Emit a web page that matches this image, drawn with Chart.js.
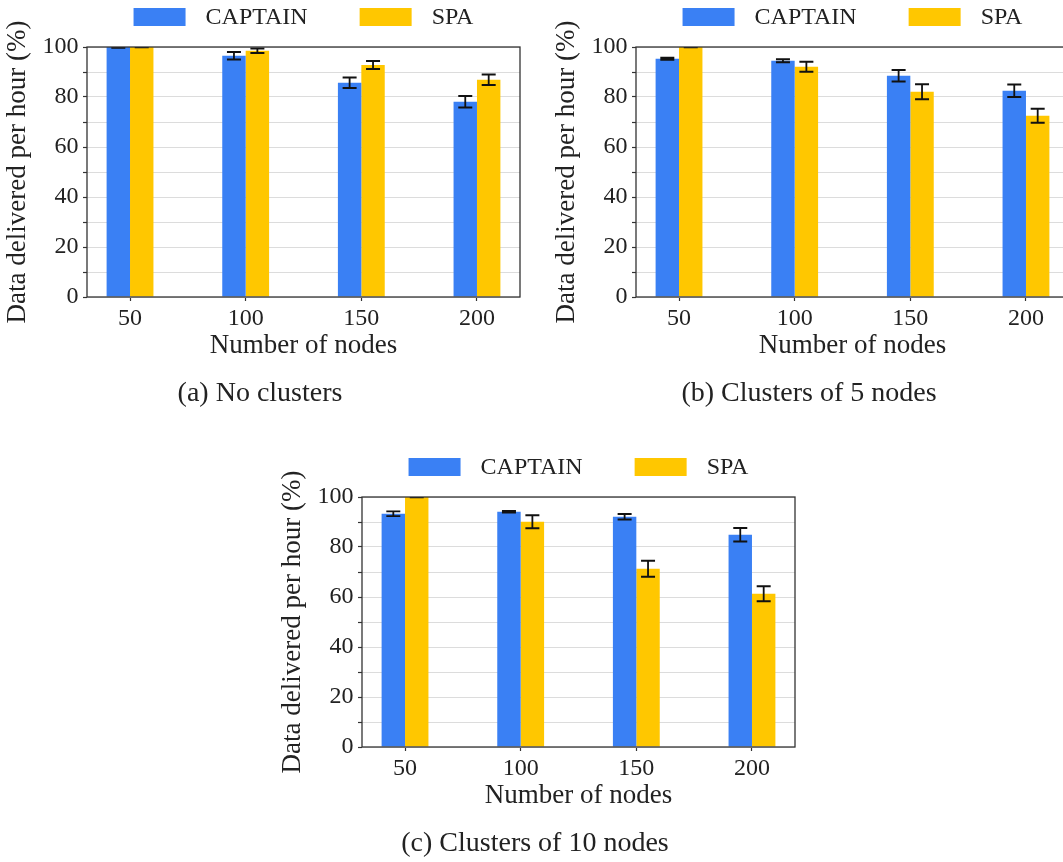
<!DOCTYPE html>
<html>
<head>
<meta charset="utf-8">
<title>Data delivered per hour</title>
<script src="https://cdn.jsdelivr.net/npm/chart.js@4.4.1/dist/chart.umd.min.js"></script>
<style>
  html, body { margin: 0; padding: 0; background: #fff; overflow: hidden; }
  #figure { position: relative; width: 1063px; height: 862px; overflow: hidden; }
  .panel { position: absolute; width: 530px; height: 420px; }
</style>
</head>
<body>
<div id="figure">
  <div class="panel" style="left:0px;top:0px"><canvas id="chartA" width="530" height="420"></canvas></div>
  <div class="panel" style="left:549px;top:0px"><canvas id="chartB" width="530" height="420"></canvas></div>
  <div class="panel" style="left:275px;top:450px"><canvas id="chartC" width="530" height="420"></canvas></div>
</div>
<script>
// Data
const nodeCounts = [50, 100, 150, 200];
const seriesNames = ['CAPTAIN', 'SPA'];

const captainNoClusters = [100, 96.5, 85.7, 78.1];
const captainNoClustersErr = [0.3, 1.5, 2.1, 2.3];
const spaNoClusters = [100, 98.5, 92.8, 86.9];
const spaNoClustersErr = [0.1, 0.9, 1.6, 2.1];

const captainClusters5 = [95.3, 94.5, 88.5, 82.5];
const captainClusters5Err = [0.4, 0.6, 2.3, 2.5];
const spaClusters5 = [100, 92.1, 82.1, 72.5];
const spaClusters5Err = [0.15, 2.0, 3.0, 2.8];

const captainClusters10 = [93.3, 94.1, 92.1, 84.9];
const captainClusters10Err = [0.95, 0.3, 1.1, 2.7];
const spaClusters10 = [100, 90.1, 71.3, 61.3];
const spaClusters10Err = [0.1, 2.6, 3.2, 3.0];

const captions = ['(a) No clusters', '(b) Clusters of 5 nodes', '(c) Clusters of 10 nodes'];
const yMin = 0;
const yMax = 100;
const yStep = 10;
const yLabelStep = 20;

// Styles
const BLUE = '#3A80F4';
const YELLOW = '#FFC700';
const TEXT = '#222';
const FRAME = '#333';
const GRID = '#dcdcdc';
const ERR = '#111';

Chart.defaults.font.family = '"Liberation Serif", "Times New Roman", serif';
Chart.defaults.color = TEXT;

// Legend row above the plot area, centred on it
const topLegend = {
    id: 'topLegend',
    afterDraw(chart) {
        const { ctx, chartArea } = chart;
        const boxW = 52, boxH = 18, textGap = 20, itemGap = 52;
        ctx.save();
        ctx.font = '24px "Liberation Serif", serif';
        const items = chart.data.datasets.map(ds => ({
            text: ds.label,
            color: ds.backgroundColor,
            w: ctx.measureText(ds.label).width
        }));
        const total = items.reduce((s, it) => s + boxW + textGap + it.w, 0) + itemGap * (items.length - 1);
        let x = (chartArea.left + chartArea.right) / 2 - total / 2;
        const boxTop = chartArea.top - 39;
        ctx.textBaseline = 'middle';
        ctx.textAlign = 'left';
        items.forEach(it => {
            ctx.fillStyle = it.color;
            ctx.fillRect(x, boxTop, boxW, boxH);
            ctx.fillStyle = TEXT;
            ctx.fillText(it.text, x + boxW + textGap, boxTop + 9.5);
            x += boxW + textGap + it.w + itemGap;
        });
        ctx.restore();
    }
};

// Error bars and the box round the plot area
const errorBarsAndFrame = {
    id: 'errorBarsAndFrame',
    afterDatasetsDraw(chart) {
        const { ctx, chartArea: area, scales: { y } } = chart;
        const cap = 7;
        ctx.save();
        ctx.beginPath();
        ctx.rect(area.left, area.top, area.right - area.left, area.bottom - area.top);
        ctx.clip();
        ctx.strokeStyle = ERR;
        ctx.lineWidth = 1.8;
        chart.data.datasets.forEach((ds, i) => {
            chart.getDatasetMeta(i).data.forEach((bar, j) => {
                const v = ds.data[j].y;
                const e = ds.errors[j];
                const hi = y.getPixelForValue(v + e);
                const lo = y.getPixelForValue(v - e);
                ctx.beginPath();
                ctx.moveTo(bar.x, hi); ctx.lineTo(bar.x, lo);
                ctx.moveTo(bar.x - cap, hi); ctx.lineTo(bar.x + cap, hi);
                ctx.moveTo(bar.x - cap, lo); ctx.lineTo(bar.x + cap, lo);
                ctx.stroke();
            });
        });
        ctx.restore();

        ctx.save();
        ctx.strokeStyle = FRAME;
        ctx.lineWidth = 1.3;
        ctx.strokeRect(area.left, area.top, area.right - area.left, area.bottom - area.top);
        ctx.restore();
    }
};

function makePanel(canvasId, captain, captainErr, spa, spaErr, caption) {
    const toPoints = vals => vals.map((v, i) => ({ x: i, y: v }));
    return new Chart(document.getElementById(canvasId), {
        type: 'bar',
        data: {
            datasets: [
                { label: seriesNames[0], data: toPoints(captain), errors: captainErr, backgroundColor: BLUE },
                { label: seriesNames[1], data: toPoints(spa), errors: spaErr, backgroundColor: YELLOW }
            ]
        },
        options: {
            responsive: false,
            animation: false,
            layout: { padding: { top: 47, right: 10, bottom: 0, left: 0 } },
            datasets: { bar: { categoryPercentage: 0.405, barPercentage: 1, borderWidth: 0 } },
            plugins: {
                legend: { display: false },
                tooltip: { enabled: false },
                title: {
                    display: true,
                    position: 'bottom',
                    text: caption,
                    color: TEXT,
                    font: { size: 28, weight: 'normal' },
                    padding: { top: 0, bottom: 9.2 }
                }
            },
            scales: {
                x: {
                    type: 'linear',
                    min: -0.372,
                    max: nodeCounts.length - 1 + 0.372,
                    offset: false,
                    afterBuildTicks: s => { s.ticks = nodeCounts.map((n, i) => ({ value: i })); },
                    afterFit: s => { s.height = 80.2; },
                    ticks: {
                        callback: v => nodeCounts[v],
                        font: { size: 24 },
                        color: TEXT,
                        padding: 3.5,
                        maxRotation: 0,
                        autoSkip: false
                    },
                    grid: { drawOnChartArea: false, offset: false, tickLength: 4, tickColor: FRAME, tickWidth: 1.2 },
                    border: { display: false },
                    title: {
                        display: true,
                        text: 'Number of nodes',
                        color: TEXT,
                        font: { size: 27 },
                        padding: { top: 0, bottom: 15 }
                    }
                },
                y: {
                    min: yMin,
                    max: yMax,
                    afterFit: s => { s.width = 87; },
                    ticks: {
                        stepSize: yStep,
                        callback: v => (v % yLabelStep === 0 ? v : ''),
                        font: { size: 24 },
                        color: TEXT,
                        padding: 4.5,
                        autoSkip: false
                    },
                    grid: { color: GRID, lineWidth: 1, tickLength: 4, tickColor: FRAME, tickWidth: 1.2 },
                    border: { display: false },
                    title: {
                        display: true,
                        text: 'Data delivered per hour (%)',
                        color: TEXT,
                        font: { size: 27 },
                        padding: { top: 2, bottom: 0 }
                    }
                }
            }
        },
        plugins: [topLegend, errorBarsAndFrame]
    });
}

makePanel('chartA', captainNoClusters, captainNoClustersErr, spaNoClusters, spaNoClustersErr, captions[0]);
makePanel('chartB', captainClusters5, captainClusters5Err, spaClusters5, spaClusters5Err, captions[1]);
makePanel('chartC', captainClusters10, captainClusters10Err, spaClusters10, spaClusters10Err, captions[2]);
</script>
</body>
</html>
